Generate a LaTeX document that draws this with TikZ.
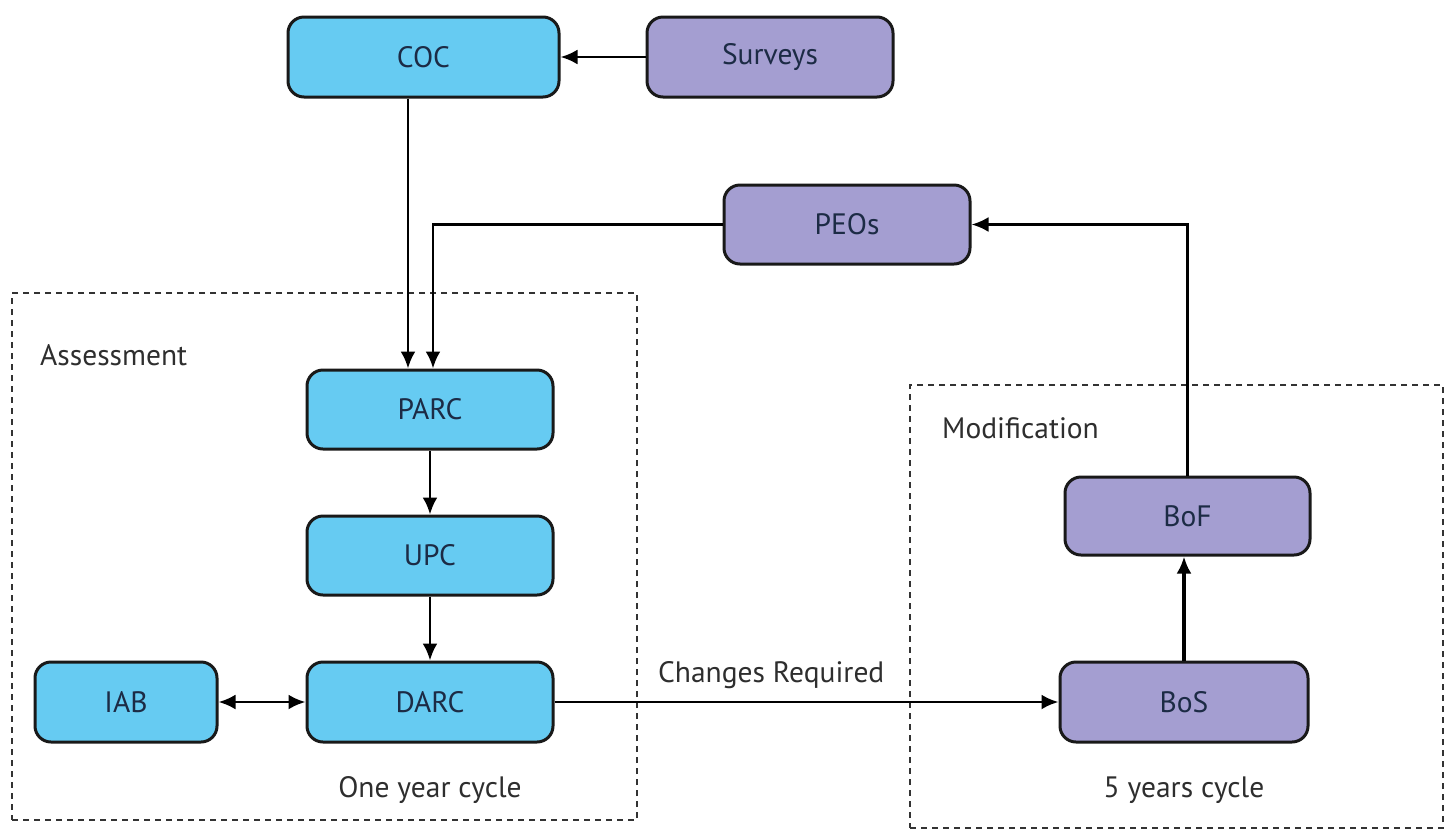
\documentclass[tikz,border=0pt]{standalone}
\usepackage{fontspec}
\setmainfont{PT Sans}
\usetikzlibrary{arrows.meta}
\definecolor{cblue}{HTML}{66CBF2}
\definecolor{cpurp}{HTML}{A49ED1}
\definecolor{ctext}{HTML}{1C2B45}
\definecolor{clab}{HTML}{2E2E2E}
\tikzset{
  box/.style={draw=black!90, line width=3pt, rounded corners=16pt, inner sep=0pt,
    text=ctext, font=\fontsize{29.5}{34}\selectfont},
  bluebox/.style={box, fill=cblue},
  purpbox/.style={box, fill=cpurp},
  tip/.style={},
  arr/.style={line width=2.8pt, -{Latex[length=17pt,width=15pt]}},
  dashbox/.style={draw=black!80, line width=2.6pt, dash pattern=on 6pt off 5pt, inner sep=0pt},
  lab/.style={text=clab, font=\fontsize{29.5}{34}\selectfont, inner sep=0pt}
}
\begin{document}
\begin{tikzpicture}[x=1pt,y=-1pt]
\useasboundingbox[fill=white] (0,0) rectangle (1448,831);
% containers
\node[dashbox, minimum width=625pt, minimum height=527pt] (assess) at (324.5,556.5) {};
\node[dashbox, minimum width=533pt, minimum height=443pt] (modif) at (1176.5,606.5) {};
\node[lab, anchor=west] (assesslab) at (40,355) {Assessment};
\node[lab, anchor=west] (modiflab) at (942,428) {Modification};
% nodes
\node[bluebox, minimum width=271pt, minimum height=80pt] (coc) at (423.5,57) {COC};
\node[purpbox, minimum width=246pt, minimum height=80pt] (sur) at (770,57) {Surveys};
\node[purpbox, minimum width=246pt, minimum height=79pt] (peo) at (847,224.5) {PEOs};
\node[bluebox, minimum width=246pt, minimum height=79pt] (parc) at (430,409.5) {PARC};
\node[bluebox, minimum width=246pt, minimum height=79pt] (upc) at (430,555.5) {UPC};
\node[bluebox, minimum width=246pt, minimum height=80pt] (darc) at (430,702) {DARC};
\node[bluebox, minimum width=182pt, minimum height=80pt] (iab) at (126,702) {IAB};
\node[purpbox, minimum width=245pt, minimum height=78pt] (bof) at (1187.5,516) {BoF};
\node[purpbox, minimum width=248pt, minimum height=80pt] (bos) at (1184,702) {BoS};
\node[lab] (oneyear) at (430,790) {One year cycle};
\node[lab] (fiveyear) at (1184,790) {5 years cycle};
% connectors
\draw[arr] (sur.west) -- (coc.east);
\draw[arr] ([xshift=-15.5pt]coc.south) -- ([xshift=-22pt]parc.north);
\draw[arr] (peo.west) -| ([xshift=3pt]parc.north);
\draw[arr] (bof.north) |- (peo.east);
\draw[arr] (parc.south) -- (upc.north);
\draw[arr] (upc.south) -- (darc.north);
\draw[line width=2.8pt, {Latex[length=17pt,width=15pt]}-{Latex[length=17pt,width=15pt]}] (iab.east) -- (darc.west);
\draw[arr] (darc.east) -- node[lab, above=12pt, pos=0.43] (chg) {Changes Required} (bos.west);
\draw[line width=3.4pt, -{Latex[length=17pt,width=15pt]}] (bos.north) -- (bos.north |- bof.south);
\end{tikzpicture}
\end{document}
